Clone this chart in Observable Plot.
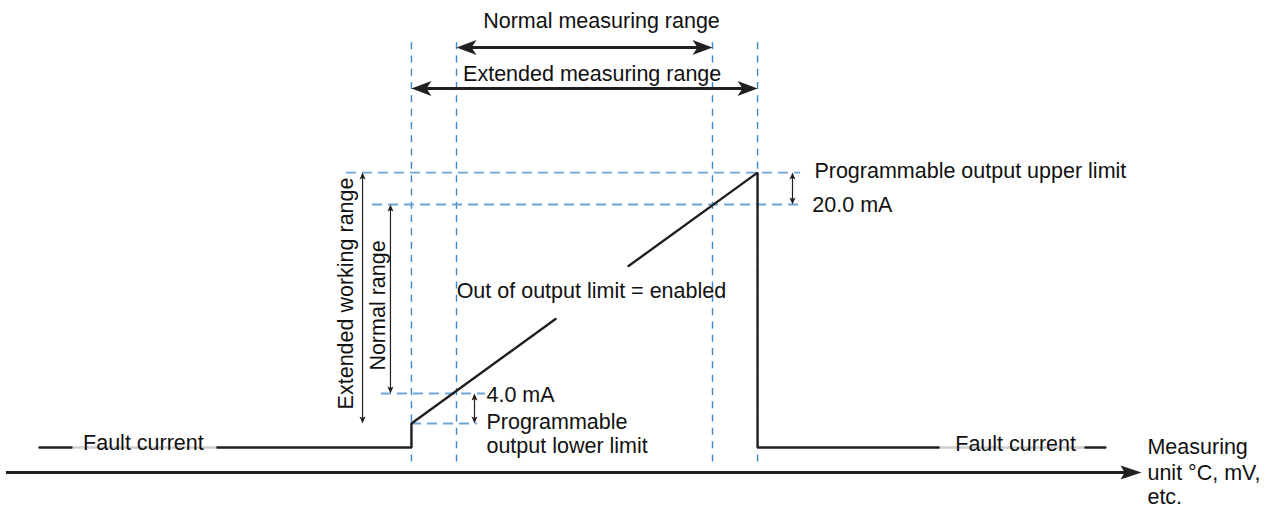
<!DOCTYPE html>
<html>
<head>
<meta charset="utf-8">
<script src="https://cdn.jsdelivr.net/npm/d3@7"></script>
<script src="https://cdn.jsdelivr.net/npm/@observablehq/plot@0.6"></script>
<style>
  html, body { margin: 0; padding: 0; background: #fff; }
  #chart svg { display: block; }
</style>
</head>
<body>
<div id="chart"></div>
<script>
// ---- Data (x: % of normal measuring range, y: output current in mA, schematic) ----
const rangeBoundsX = [-17.6, 0, 100, 117.6];          // ext. start, normal start, normal end, ext. end
const rangeBoundsYTop = 33.7;
const rangeBoundsYBottom = -2.3;

const limitLevels = [22.7, 20, 4, 1.46];               // upper limit, 20 mA, 4 mA, lower limit
const limitLevelFrom = [-43, -32.8, -29.3, -17.6];
const limitLevelTo = [134.4, 134.4, 11.3, 8.2];

const faultLevel = -0.57;
const axisLevel = -2.69;
const axisFrom = -175.8;
const axisTo = 267.6;

// output signal polyline (null = break for labels)
const signalX = [-162.9, -150.4, null, -93.4, -17.6, -17.6, 38.7, null, 67.2, 117.6, 117.6, 188.3, null, 245.7, 253.5];
const signalY = [faultLevel, faultLevel, null, faultLevel, faultLevel, 1.46, 10.31, null, 14.79, 22.7, faultLevel, faultLevel, null, faultLevel, faultLevel];

const faultLabelFrom = [-150.4, 188.3];
const faultLabelTo = [-93.4, 245.7];

// horizontal double arrows (measuring ranges)
const hArrowY = [33.29, 29.82];
const hArrowFrom = [0, -17.6];
const hArrowTo = [100, 117.6];

// vertical double arrows
const vArrowX = [-36.7, -25.8, 131.25, 7.03];
const vArrowTop = [22.7, 20, 22.7, 4];
const vArrowBottom = [1.46, 4, 20, 1.46];

// centered text labels
const midLabelText = ["Normal measuring range", "Extended measuring range", "Out of output limit = enabled", "Fault current", "Fault current"];
const midLabelX = [56.64, 53.0, 52.7, -122.3, 218.4];
const midLabelY = [35.53, 31.0, 12.68, -0.23, -0.29];

// left-aligned text labels
const startLabelText = ["Programmable output upper limit", "20.0 mA", "4.0 mA", "Programmable", "output lower limit",
  "Measuring", "unit °C, mV,", "etc."];
const startLabelX = [139.8, 139.0, 11.7, 11.7, 11.7, 269.9, 269.9, 269.9];
const startLabelY = [22.79, 19.92, 3.83, 1.545, -0.45, -0.55, -2.75, -4.75];

// rotated labels
const rotLabelText = ["Extended working range", "Normal range"];
const rotLabelX = [-43.2, -30.7];
const rotLabelY = [12.47, 11.45];

// ---- build tables ----
const signal = signalX.map((x, i) => ({x, y: signalY[i]}));
const limits = limitLevels.map((y, i) => ({y, x1: limitLevelFrom[i], x2: limitLevelTo[i]}));
const faultHalo = faultLabelFrom.map((x1, i) => ({x1, x2: faultLabelTo[i], y: faultLevel}));
const hArrows = hArrowY.map((y, i) => ({y, x1: hArrowFrom[i], x2: hArrowTo[i]}));
const vArrows = vArrowX.map((x, i) => ({x, y1: vArrowTop[i], y2: vArrowBottom[i]}));
const midLabels = midLabelText.map((t, i) => ({t, x: midLabelX[i], y: midLabelY[i]}));
const startLabels = startLabelText.map((t, i) => ({t, x: startLabelX[i], y: startLabelY[i]}));
const rotLabels = rotLabelText.map((t, i) => ({t, x: rotLabelX[i], y: rotLabelY[i]}));

// arrowhead symbols (tip at the point)
function head(angleDeg, len, half, notch) {
  const a = angleDeg * Math.PI / 180, c = Math.cos(a), s = Math.sin(a);
  const pts = [[0, 0], [-len, -half], [-len + notch, 0], [-len, half]]
    .map(([px, py]) => [px * c - py * s, px * s + py * c]);
  return {draw(ctx) {
    ctx.moveTo(pts[0][0], pts[0][1]);
    for (let i = 1; i < pts.length; i++) ctx.lineTo(pts[i][0], pts[i][1]);
    ctx.closePath();
  }};
}
const INK = "#231f20";
const BLUE_V = "#3b87c9";
const BLUE_H = "#6ba5d9";
const FONT = "'Liberation Sans', Arial, Helvetica, sans-serif";
const FS = 21.5;

const bigLeft = head(180, 20, 7.5, 5), bigRight = head(0, 20, 7.5, 5);
const axisHead = head(0, 21, 7, 4);
const smUp = head(-90, 7, 3, 1.5), smDown = head(90, 7, 3, 1.5);

const chart = Plot.plot({
  width: 1267,
  height: 509,
  margin: 0,
  x: {domain: [0, 100], range: [456, 712], axis: null},
  y: {domain: [4, 20], range: [393, 204], axis: null},
  style: {fontFamily: FONT, background: "#fff"},
  marks: [
    // range boundaries
    Plot.ruleX(rangeBoundsX, {x: d => d, y1: rangeBoundsYTop, y2: rangeBoundsYBottom,
      stroke: BLUE_V, strokeWidth: 1.4, strokeDasharray: "7,6.3"}),
    // limit levels
    Plot.ruleY(limits, {y: "y", x1: "x1", x2: "x2", stroke: BLUE_H, strokeWidth: 1.8, strokeDasharray: "10,6"}),
    // fault label halo
    Plot.ruleY(faultHalo, {y: "y", x1: "x1", x2: "x2", stroke: "#cfcfcf", strokeWidth: 2.6}),
    // output signal
    Plot.line(signal, {x: "x", y: "y", stroke: INK, strokeWidth: 2.4, strokeLinejoin: "miter"}),
    // measuring axis
    Plot.ruleY([axisLevel], {y: d => d, x1: axisFrom, x2: axisTo, stroke: INK, strokeWidth: 3, insetRight: 14}),
    Plot.dot([axisLevel], {x: axisTo, y: d => d, symbol: axisHead, fill: INK, stroke: "none"}),
    // measuring range arrows
    Plot.ruleY(hArrows, {y: "y", x1: "x1", x2: "x2", stroke: INK, strokeWidth: 3, insetLeft: 14, insetRight: 14}),
    Plot.dot(hArrows, {x: "x1", y: "y", symbol: bigLeft, fill: INK, stroke: "none"}),
    Plot.dot(hArrows, {x: "x2", y: "y", symbol: bigRight, fill: INK, stroke: "none"}),
    // vertical double arrows
    Plot.ruleX(vArrows, {x: "x", y1: "y1", y2: "y2", stroke: INK, strokeWidth: 1.2, insetTop: 4, insetBottom: 4}),
    Plot.dot(vArrows, {x: "x", y: "y1", symbol: smUp, fill: INK, stroke: "none"}),
    Plot.dot(vArrows, {x: "x", y: "y2", symbol: smDown, fill: INK, stroke: "none"}),
    // labels
    Plot.text(midLabels, {x: "x", y: "y", text: "t", textAnchor: "middle", lineAnchor: "middle",
      fontSize: FS, fill: "#111"}),
    Plot.text(startLabels, {x: "x", y: "y", text: "t", textAnchor: "start", lineAnchor: "middle",
      fontSize: FS, fill: "#111"}),
    Plot.text(rotLabels, {x: "x", y: "y", text: "t", rotate: -90, textAnchor: "middle", lineAnchor: "middle",
      fontSize: FS, fill: "#111"})
  ]
});
document.getElementById("chart").append(chart);
</script>
</body>
</html>
